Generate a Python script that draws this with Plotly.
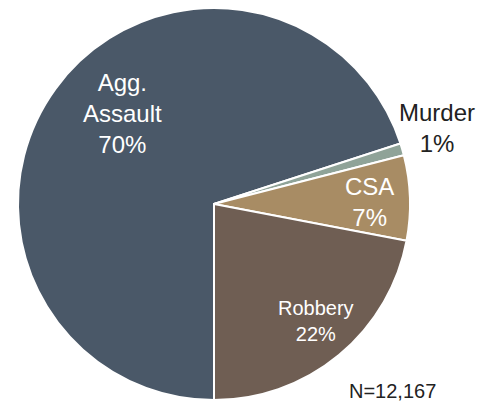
import plotly.graph_objects as go

categories = ["Agg. Assault", "Murder", "CSA", "Robbery"]
display_labels = ["Agg.<br>Assault", "Murder", "CSA", "Robbery"]
counts = [8517, 121, 852, 2677]
total_label = "N=12,167"

colors = ["#4a5868", "#8fa398", "#a88c64", "#6f5e53"]
FONT = "Liberation Sans, Arial, sans-serif"
W, H = 479, 402

fig = go.Figure(go.Pie(
    labels=categories,
    values=counts,
    textinfo="none",
    sort=False,
    direction="clockwise",
    rotation=180,
    marker=dict(colors=colors, line=dict(color="white", width=2)),
    domain=dict(x=[18/W, 410/W], y=[2/H, 394/H]),
    hoverinfo="label+percent",
    showlegend=False,
))

# slice labels (text placement in pixels from top-left)
label_pos = {
    "Agg. Assault": (122, 113, 24, "white"),
    "Murder": (437, 128, 24, "#222222"),
    "CSA": (369, 202, 24, "white"),
    "Robbery": (316, 321, 20, "white"),
}
total = sum(counts)
for cat, disp, c in zip(categories, display_labels, counts):
    px, py, size, col = label_pos[cat]
    fig.add_annotation(text=f"{disp}<br>{round(100*c/total)}%",
                       x=px/W, y=1-py/H, xref="paper", yref="paper",
                       showarrow=False, xanchor="center", yanchor="middle",
                       font=dict(family=FONT, size=size, color=col))

fig.add_annotation(text=total_label, x=392/W, y=1-391/H, xref="paper", yref="paper",
                   showarrow=False, xanchor="center", yanchor="middle",
                   font=dict(family=FONT, size=20, color="#222222"))

fig.update_layout(width=W, height=H, margin=dict(l=0, r=0, t=0, b=0),
                  paper_bgcolor="white", plot_bgcolor="white", showlegend=False)

fig.write_html("out.html", config={"displayModeBar": False},
               post_script="document.body.style.margin='0';")
